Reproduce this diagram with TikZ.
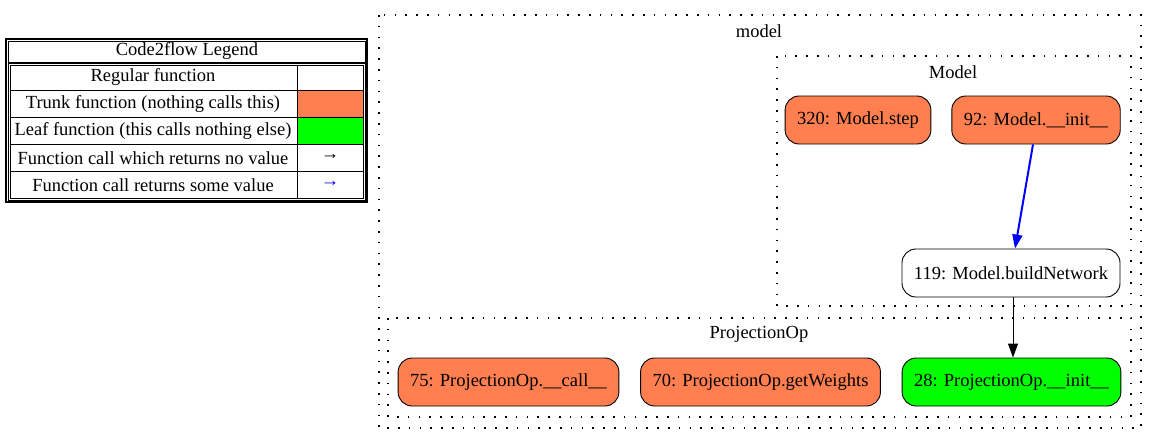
\documentclass[tikz,border=0pt]{standalone}
\usepackage{fontspec}
\setmainfont{Liberation Serif}
\usetikzlibrary{arrows.meta}

\definecolor{trunkcol}{HTML}{FF7F50}
\definecolor{leafcol}{HTML}{00FF00}

\tikzset{
    fn/.style={draw, line width=0.9pt, rounded corners=14pt, minimum height=48pt, inner xsep=12pt, fill=white},
    trunk/.style={fn, fill=trunkcol},
    leaf/.style={fn, fill=leafcol},
    cluster/.style={draw, line width=1.1pt, dash pattern=on 1.6pt off 9.2pt},
    call/.style={-{Triangle[length=14pt,width=10pt]}, line width=0.9pt},
    ret/.style={call, blue, line width=2pt}
}

\begin{document}
\begin{tikzpicture}[x=1pt, y=-1pt, font=\fontsize{18.5pt}{21pt}\selectfont]
    \useasboundingbox (0,0) rectangle (1157,444);

    % Legend
    \draw[line width=1.8pt] (5.9,38.9) rectangle (367.1,202.1);
    \draw (8.2,41.2) rectangle (364.8,199.8);
    \draw[line width=1.6pt] (8,63) -- (365,63);
    \fill[trunkcol] (297,90) rectangle (363,117);
    \fill[leafcol] (297,117) rectangle (363,144);
    \draw (10,65) rectangle (363,198);
    \draw (297,65) -- (297,198);
    \draw (10,90) -- (363,90);
    \draw (10,117) -- (363,117);
    \draw (10,144) -- (363,144);
    \draw (10,171) -- (363,171);
    \node (title) at (187,51) {Code2flow Legend};
    \node (regular) at (153,77) {Regular function};
    \node (trunk) at (153,104) {Trunk function (nothing calls this)};
    \node (leaf) at (153,131) {Leaf function (this calls nothing else)};
    \node (noval) at (153,158) {Function call which returns no value};
    \node (someval) at (153,185) {Function call returns some value};
    \node (noarrow) at (330,157) {→};
    \node[blue] (somearrow) at (330,184) {→};

    % Clusters
    \draw[cluster] (379,15) rectangle (1141,428);
    \node (modfile) at (759,31) {model};
    \draw[cluster] (777,56) rectangle (1131,306);
    \node (modclass) at (953,72) {Model};
    \draw[cluster] (388,318) rectangle (1131,417);
    \node (projclass) at (759,334) {ProjectionOp};

    % Functions
    \node[trunk] (step) at (858,120) {320: Model.step};
    \node[trunk] (init) at (1036,120) {92: Model.\_\_init\_\_};
    \node[fn] (build) at (1011,273) {119: Model.buildNetwork};
    \node[trunk] (call) at (508.5,382) {75: ProjectionOp.\_\_call\_\_};
    \node[trunk] (weights) at (760.5,382) {70: ProjectionOp.getWeights};
    \node[leaf] (pinit) at (1011.5,382) {28: ProjectionOp.\_\_init\_\_};

    % Calls
    \draw[ret] (init.south -| 1033,0) -- (build.north -| 1015,0);
    \draw[call] (build.south -| 1013,0) -- (pinit.north -| 1013,0);
  \end{tikzpicture}
\end{document}
